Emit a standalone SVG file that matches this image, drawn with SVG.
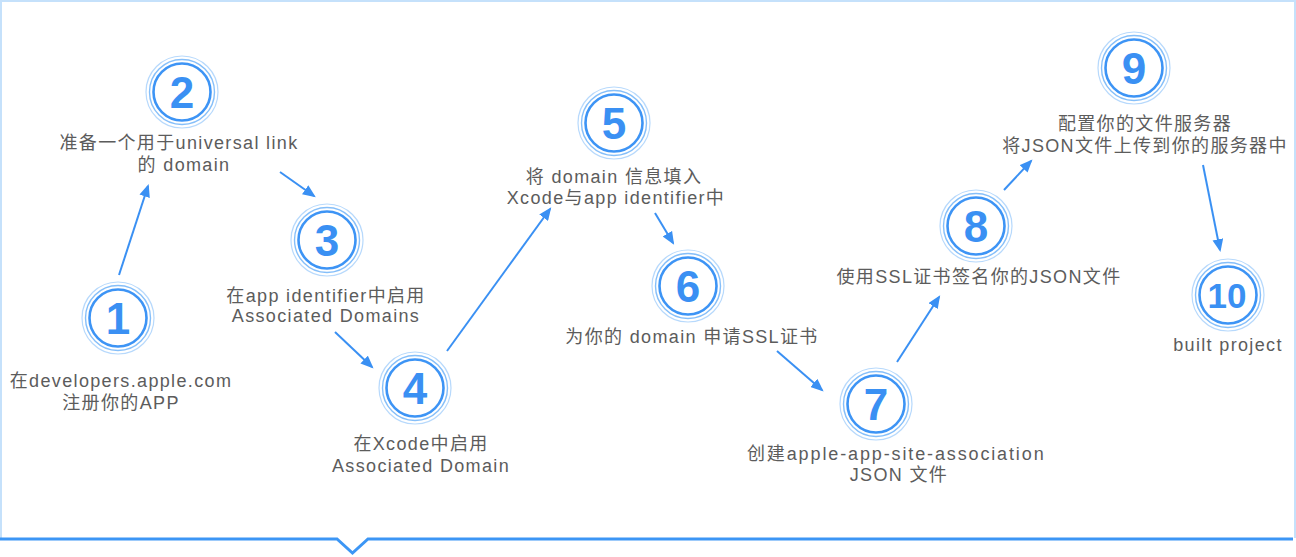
<svg xmlns="http://www.w3.org/2000/svg" width="1296" height="557" viewBox="0 0 1296 557">
<defs>
<style>
.r1{fill:none;stroke:#b7d9fc;stroke-width:1.2}
.r2{fill:none;stroke:#86bff9;stroke-width:1.4}
.r3{fill:none;stroke:#3d94f5;stroke-width:2.6}
.num{font-family:"Liberation Sans",Arial,sans-serif;font-weight:bold;font-size:44px;fill:#3a90f3;text-anchor:middle}
.lbl{font-family:"Liberation Sans","Noto Sans CJK SC",sans-serif;font-size:18px;fill:#5c5c5c;text-anchor:middle;letter-spacing:1.35px}
.conn{stroke:#3a90f3;stroke-width:2;fill:none;marker-end:url(#ah)}
</style>
<marker id="ah" viewBox="0 0 12 10" refX="10" refY="5" markerWidth="6.5" markerHeight="5.5" orient="auto" markerUnits="strokeWidth">
<path d="M0,0 L12,5 L0,10 Z" fill="#3a90f3"/>
</marker>
<g id="ring">
<circle r="36" class="r1"/>
<circle r="32.5" class="r2"/>
<circle r="28.5" class="r3"/>
</g>
</defs>
<rect width="1296" height="557" fill="#ffffff"/>
<path d="M1,538 V1 H1295 V538" fill="none" stroke="#c5e1fb" stroke-width="2"/>
<path d="M0,539 H337 L352.5,553 L368,539 H1293" fill="none" stroke="#3c96f5" stroke-width="3"/>

<g id="connectors">
<line class="conn" x1="119" y1="275" x2="148" y2="186"/>
<line class="conn" x1="280" y1="172" x2="314" y2="196"/>
<line class="conn" x1="335" y1="332" x2="372" y2="367"/>
<line class="conn" x1="447" y1="351" x2="550" y2="209"/>
<line class="conn" x1="655" y1="213" x2="673" y2="243"/>
<line class="conn" x1="777" y1="351" x2="822" y2="390"/>
<line class="conn" x1="897" y1="362" x2="939" y2="297"/>
<line class="conn" x1="1004" y1="190" x2="1031" y2="161"/>
<line class="conn" x1="1203" y1="165" x2="1220" y2="250"/>
</g>

<g id="node1">
<use href="#ring" x="118" y="318"/>
<text class="num" x="118" y="334">1</text>
<text class="lbl" x="121" y="387">在developers.apple.com</text>
<text class="lbl" x="121" y="409">注册你的APP</text>
</g>
<g id="node2">
<use href="#ring" x="182" y="92"/>
<text class="num" x="182" y="108">2</text>
<text class="lbl" x="179" y="149">准备一个用于universal link</text>
<text class="lbl" x="184" y="171">的 domain</text>
</g>
<g id="node3">
<use href="#ring" x="327" y="240"/>
<text class="num" x="327" y="256">3</text>
<text class="lbl" x="326" y="302">在app identifier中启用</text>
<text class="lbl" x="326" y="322">Associated Domains</text>
</g>
<g id="node4">
<use href="#ring" x="415" y="388"/>
<text class="num" x="415" y="404">4</text>
<text class="lbl" x="421" y="450">在Xcode中启用</text>
<text class="lbl" x="421" y="472">Associated Domain</text>
</g>
<g id="node5">
<use href="#ring" x="614" y="123"/>
<text class="num" x="614" y="139">5</text>
<text class="lbl" x="614" y="183">将 domain 信息填入</text>
<text class="lbl" x="616" y="204">Xcode与app identifier中</text>
</g>
<g id="node6">
<use href="#ring" x="688" y="286"/>
<text class="num" x="688" y="302">6</text>
<text class="lbl" x="692" y="343">为你的 domain 申请SSL证书</text>
</g>
<g id="node7">
<use href="#ring" x="876" y="404"/>
<text class="num" x="876" y="420">7</text>
<text class="lbl" x="896" y="460" textLength="298" lengthAdjust="spacing">创建apple-app-site-association</text>
<text class="lbl" x="899" y="481">JSON 文件</text>
</g>
<g id="node8">
<use href="#ring" x="976" y="226"/>
<text class="num" x="976" y="242">8</text>
<text class="lbl" x="979" y="283">使用SSL证书签名你的JSON文件</text>
</g>
<g id="node9">
<use href="#ring" x="1134" y="68"/>
<text class="num" x="1134" y="84">9</text>
<text class="lbl" x="1145" y="130">配置你的文件服务器</text>
<text class="lbl" x="1145" y="152">将JSON文件上传到你的服务器中</text>
</g>
<g id="node10">
<use href="#ring" x="1228" y="295"/>
<text class="num" x="1227" y="308" style="font-size:35px">10</text>
<text class="lbl" x="1228" y="351">built project</text>
</g>
</svg>
